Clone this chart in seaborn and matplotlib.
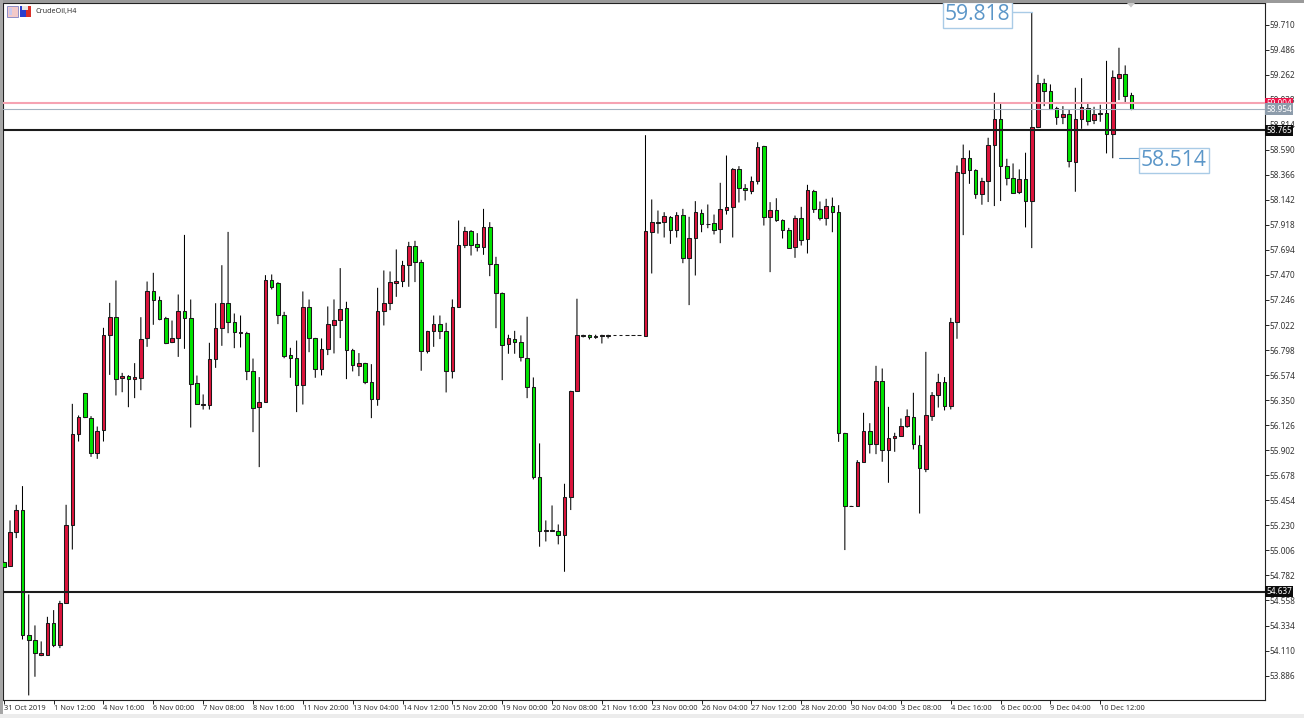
import matplotlib
matplotlib.use("Agg")
import matplotlib.pyplot as plt
from matplotlib.patches import Rectangle, Polygon
from matplotlib.transforms import blended_transform_factory
import numpy as np
import pandas as pd
import seaborn as sns

opens = [
54.904,54.865,55.175,55.363,54.248,54.207,54.069,54.072,54.359,54.162,
54.537,55.232,56.043,56.415,56.192,55.876,56.079,56.934,57.095,56.544,
56.567,56.538,56.547,56.907,57.328,57.247,57.083,56.872,56.907,57.146,
57.083,56.505,56.308,56.308,56.719,56.991,57.217,57.053,56.955,56.955,
56.612,56.287,56.332,57.423,57.402,57.116,56.755,56.725,56.484,57.179,
56.907,56.631,56.809,57.024,57.066,57.173,56.797,56.654,56.678,56.511,
56.359,57.143,57.221,57.394,57.415,57.558,57.730,57.584,56.789,56.970,
57.027,56.970,56.610,57.179,57.736,57.865,57.745,57.722,57.897,57.570,
57.310,56.854,56.899,56.872,56.726,56.470,55.662,55.182,55.182,55.179,
55.143,55.486,56.431,56.926,56.929,56.917,56.926,56.926,56.935,56.935,
56.935,56.935,56.935,56.928,57.855,57.945,57.939,57.987,57.870,58.007,
57.620,57.799,58.028,57.924,57.933,57.882,58.052,58.076,58.419,58.249,
58.222,58.309,58.625,57.987,58.052,57.960,57.876,57.721,57.981,57.790,
58.222,58.058,57.978,58.088,58.034,56.058,55.402,55.405,55.799,56.073,
55.959,56.517,55.906,56.010,56.028,56.118,56.198,55.948,55.736,56.210,
56.395,56.514,56.302,57.048,58.383,58.515,58.405,58.190,58.309,58.628,
58.867,58.446,58.336,58.211,58.330,58.128,58.792,59.186,59.117,58.965,
58.879,58.909,58.482,58.864,58.965,58.852,58.909,58.920,58.727,59.233,
59.269,59.081]
closes = [
54.859,55.175,55.363,54.248,54.207,54.087,54.084,54.359,54.159,54.537,
55.235,56.043,56.201,56.198,55.876,56.073,56.934,57.095,56.541,56.567,
56.541,56.553,56.901,57.328,57.247,57.080,56.863,56.907,57.146,57.086,
56.490,56.317,56.317,56.719,56.991,57.217,57.053,56.961,56.961,56.615,
56.281,56.329,57.423,57.366,57.116,56.746,56.725,56.484,57.179,56.907,
56.627,56.809,57.033,57.069,57.167,56.797,56.663,56.678,56.511,56.359,
57.149,57.221,57.403,57.417,57.561,57.730,57.584,56.789,56.970,57.033,
56.970,56.610,57.179,57.736,57.865,57.742,57.722,57.897,57.570,57.310,
56.845,56.908,56.872,56.735,56.470,55.659,55.182,55.188,55.188,55.143,
55.480,56.434,56.935,56.932,56.914,56.920,56.929,56.929,56.935,56.935,
56.935,56.935,56.935,57.864,57.945,57.933,57.996,57.870,58.007,57.620,
57.799,58.031,57.924,57.930,57.876,58.058,58.079,58.419,58.246,58.231,
58.309,58.616,57.987,58.052,57.960,57.876,57.715,57.975,57.784,58.231,
58.058,57.978,58.091,58.034,56.058,55.405,55.405,55.799,56.073,55.959,
56.517,55.906,56.010,56.028,56.120,56.207,55.954,55.742,56.219,56.398,
56.514,56.299,57.051,58.392,58.517,58.405,58.190,58.309,58.628,58.867,
58.441,58.339,58.205,58.330,58.128,58.795,59.186,59.114,58.956,58.879,
58.909,58.491,58.867,58.968,58.846,58.909,58.915,58.727,59.242,59.266,
59.072,58.953]
highs = [
54.904,55.274,55.414,55.581,54.612,54.335,54.192,54.412,54.472,54.555,
55.414,56.317,56.213,56.415,56.207,56.114,56.997,57.220,57.420,56.594,
56.573,56.681,57.092,57.411,57.489,57.277,57.095,57.062,57.295,57.828,
57.250,56.570,56.401,56.863,57.217,57.557,57.855,57.125,57.107,56.961,
56.722,56.556,57.468,57.474,57.405,57.140,56.818,56.883,57.322,57.250,
56.907,56.902,57.188,57.251,57.531,57.230,56.809,56.771,56.684,56.672,
57.355,57.510,57.501,57.698,57.596,57.766,57.775,57.605,56.970,57.107,
57.107,57.042,57.251,57.957,57.900,57.871,57.844,58.061,57.942,57.632,
57.313,56.935,56.970,56.929,57.096,56.553,55.963,55.274,55.408,55.238,
55.602,56.434,57.257,56.935,56.935,56.935,56.935,56.935,56.935,56.935,
56.935,56.935,56.935,58.720,58.145,58.046,58.031,57.996,58.031,58.061,
57.990,58.130,58.055,58.100,58.010,58.294,58.538,58.425,58.443,58.282,
58.350,58.657,58.625,58.121,58.156,57.966,57.891,58.001,58.079,58.276,
58.231,58.127,58.151,58.162,58.094,56.058,55.405,55.813,56.237,56.144,
56.657,56.633,56.290,56.058,56.186,56.267,56.416,56.034,56.782,56.422,
56.586,56.556,57.086,58.449,58.636,58.584,58.414,58.339,58.697,59.099,
59.004,58.509,58.467,58.414,58.563,59.818,59.260,59.225,59.174,58.974,
58.980,58.950,59.144,59.230,59.001,58.974,58.992,59.385,59.299,59.502,
59.344,59.099]
lows = [
54.859,54.859,55.116,54.209,53.709,53.876,54.060,54.069,54.141,54.132,
54.531,55.014,55.980,56.189,55.843,55.825,55.980,56.576,56.392,56.421,
56.287,56.368,56.439,56.827,57.024,57.065,56.851,56.860,56.737,56.809,
56.105,56.314,56.266,56.266,56.639,56.836,56.949,56.815,56.821,56.529,
56.064,55.751,56.329,57.340,57.030,56.725,56.550,56.243,56.311,56.779,
56.550,56.571,56.753,56.768,56.905,56.538,56.607,56.565,56.493,56.189,
56.300,57.018,57.155,57.274,57.361,57.364,57.406,56.613,56.768,56.827,
56.896,56.419,56.544,57.179,57.710,57.644,57.680,57.650,57.459,56.994,
56.529,56.765,56.765,56.696,56.368,55.641,55.039,55.086,55.176,55.060,
54.815,55.367,56.431,56.911,56.893,56.899,56.857,56.902,56.935,56.935,
56.935,56.935,56.935,56.928,57.483,57.840,57.805,57.748,57.805,57.575,
57.200,57.465,57.852,57.888,57.832,57.754,58.010,57.805,58.118,58.136,
58.192,58.279,57.912,57.495,57.945,57.796,57.712,57.623,57.733,57.662,
58.025,57.957,57.912,57.852,55.977,55.009,55.402,55.402,55.796,55.873,
55.867,55.799,55.611,55.888,56.028,56.103,55.909,55.336,55.706,56.165,
56.284,56.258,56.267,56.899,57.826,58.285,58.151,58.098,58.122,58.086,
58.131,58.271,58.196,58.193,57.895,57.710,58.783,58.980,58.950,58.813,
58.819,58.432,58.214,58.777,58.807,58.819,58.840,58.557,58.514,59.034,
59.007,58.944]

price_ticks = [59.710,59.486,59.262,59.038,58.814,58.590,58.366,58.142,57.918,
               57.694,57.470,57.246,57.022,56.798,56.574,56.350,56.126,55.902,
               55.678,55.454,55.230,55.006,54.782,54.558,54.334,54.110,53.886]
time_labels = ['31 Oct 2019','1 Nov 12:00','4 Nov 16:00','6 Nov 00:00','7 Nov 08:00',
               '8 Nov 16:00','11 Nov 20:00','13 Nov 04:00','14 Nov 12:00','15 Nov 20:00',
               '19 Nov 00:00','20 Nov 08:00','21 Nov 16:00','23 Nov 00:00','26 Nov 04:00',
               '27 Nov 12:00','28 Nov 20:00','30 Nov 04:00','3 Dec 08:00','4 Dec 16:00',
               '6 Dec 00:00','9 Dec 04:00','10 Dec 12:00']
resistance, support = 58.765, 54.637
ask_level, bid_level = 59.004, 58.954
peak, trough = 59.818, 58.514

W, H = 1304, 718
sns.set_theme(style="white")
plt.rcParams['font.family'] = ['Noto Sans', 'DejaVu Sans']
fig = plt.figure(figsize=(W/100, H/100), dpi=100, facecolor='white')
L, R, T, B = 3, 1265, 3, 700
ax = fig.add_axes([L/W, 1-B/H, (R-L)/W, (B-T)/H])

X0, DX = 3.8, 6.23      # px of first bar, px per bar
PY, PP = 59.71, 111.8   # reference price at y=24.5, px per unit
Y0 = 24.5
ax.set_xlim((L-X0)/DX, (R-X0)/DX)
ax.set_ylim(PY-(B-Y0)/PP, PY+(Y0-T)/PP)

n = len(opens)
idx = np.arange(n)
wicks = pd.DataFrame({'bar': np.r_[idx, idx], 'price': np.r_[lows, highs]})
sns.lineplot(data=wicks, x='bar', y='price', units='bar', estimator=None,
             color='black', linewidth=0.75, legend=False, ax=ax, zorder=2)
for ln in ax.lines:
    ln.set_snap(False)
    ln.set_solid_capstyle('butt')
o, c = np.array(opens), np.array(closes)
cols = ['#dc143c' if cc >= oo else '#00e400' for oo, cc in zip(o, c)]
ax.bar(idx, np.abs(c-o), bottom=np.minimum(o, c), width=0.58, color=cols,
       edgecolor='#1a1a1a', linewidth=0.75, zorder=3)

ax.axhline(ask_level, color='#f6a3b2', lw=1.5, zorder=4)
ax.axhline(bid_level, color='#a4b2c0', lw=0.8, zorder=4)
ax.axhline(resistance, color='#1c1c1c', lw=1.5, zorder=5)
ax.axhline(support, color='#1c1c1c', lw=1.5, zorder=5)

ax.set_xlabel(''); ax.set_ylabel('')
ax.yaxis.tick_right()
ax.set_yticks(price_ticks)
ax.set_yticklabels([f'{p:.3f}' for p in price_ticks], fontsize=5.9, color='#333333')
ax.set_xticks(np.arange(len(time_labels))*8)
ax.set_xticklabels(time_labels, fontsize=5.4, color='#333333', ha='left')
for lb in ax.get_xticklabels():
    lb.set_x(lb.get_position()[0])
ax.tick_params(axis='y', length=3, width=0.7, color='#222222', pad=0.2, right=True, left=False)
ax.tick_params(axis='x', length=3, width=0.7, color='#222222', pad=0.8, bottom=True)
for s in ax.spines.values():
    s.set_color('#222222'); s.set_linewidth(0.8)

tr = blended_transform_factory(ax.transAxes, ax.transData)
for val, bg in [(ask_level, '#e8174a'), (bid_level, '#8d9cab'), (resistance, '#0c0c0c'), (support, '#0c0c0c')]:
    ax.text(1.0 + 1.5/(R-L), val, f'{val:.3f}', transform=tr, fontsize=5.9, color='white',
            va='center', ha='left', clip_on=False, zorder=6,
            bbox=dict(boxstyle='square,pad=0.14', fc=bg, ec='none'))

blue, pale = '#5b96c8', '#a9cbe6'
def bar_x(px): return (px-X0)/DX
ax.plot([bar_x(1011), 165], [peak, peak], color=pale, lw=1, zorder=3, clip_on=False)
ax.plot([bar_x(1119), bar_x(1141)], [trough, trough], color=blue, lw=0.8, zorder=3)
for val, px in [(peak, 977.5), (trough, 1174)]:
    ax.text(bar_x(px), val, f'{val:.3f}', fontsize=15.2, color=blue, va='center_baseline', ha='center',
            family=['Open Sans', 'DejaVu Sans'], zorder=7, clip_on=False,
            bbox=dict(boxstyle='square,pad=0.1', fc='white', ec=pale, lw=1))

def rect(x, y, w, h, col, ec='none', lw=0):
    fig.add_artist(Rectangle((x/W, 1-(y+h)/H), w/W, h/H, transform=fig.transFigure,
                             fc=col, ec=ec, lw=lw))
# window frame
rect(0, 0, W, 2.5, '#9a9a9a')
rect(0, 0, 2.5, H, '#a6a6a6')
rect(0, 714, W, 4, '#ececec')
# toolbar icons and symbol text
rect(6.5, 6, 11, 10.5, '#f2c9c9', ec='#8d8dc8', lw=0.7)
rect(9, 8, 3, 7, '#c9c9ee')
rect(19.5, 6, 6, 11, '#2a3fd0')
rect(25.5, 6, 5.5, 11, '#d9302a')
rect(22, 6, 6, 3.5, '#e6e6e6')
fig.text(36/W, 1-11/H, 'CrudeOil,H4', fontsize=5.2, color='#333333', va='center', ha='left')
# scroll marker
fig.add_artist(Polygon([[1127/W, 1-3/H], [1135/W, 1-3/H], [1131/W, 1-7.5/H]],
                       transform=fig.transFigure, fc='#c8c8c8', ec='none'))

fig.savefig('out.png', dpi=100, facecolor='white')
